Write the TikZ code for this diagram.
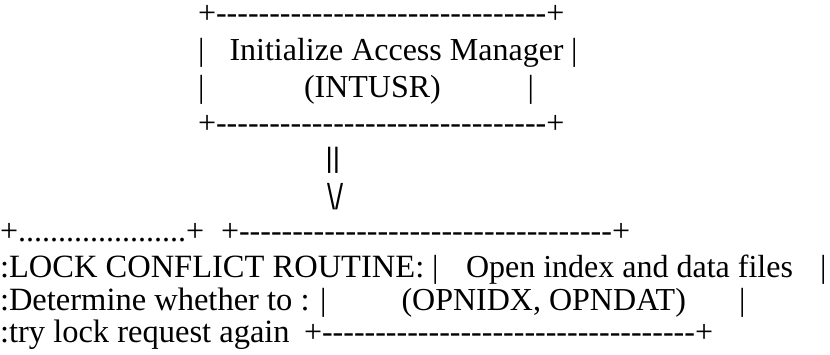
\documentclass[tikz,border=0pt]{standalone}
\usepackage{graphicx}
\usepackage{fontspec}
\setmainfont{Liberation Serif}[Ligatures=TeXOff]
\newfontfamily\flowfont{Liberation Sans}[Ligatures=TeXOff]
\definecolor{ink}{HTML}{000000}
\newcommand\reps[2]{\foreach \k in {1,...,#1}{#2}}

\begin{document}
\begin{tikzpicture}[x=1pt, y=-1pt, color=ink,
    ascii/.style={anchor=base west, inner sep=0pt, outer sep=0pt,
                  font=\fontsize{32}{35}\selectfont, text=ink},
    lockrow/.style={ascii, font=\fontsize{32.5}{35}\selectfont},
    flow/.style={ascii, font=\flowfont\fontsize{28}{35}\selectfont}]
  % fixed 830 x 354 canvas, y runs downwards
  \path[use as bounding box] (0,0) rectangle (830,354);

  % ================= top box: Initialize Access Manager =================
  \node[ascii, text height=18pt] (topedge) at (198,23) {+\reps{31}{-}+};
  \node[ascii] (initbarL) at (198,60) {|};
  \node[ascii] (inittext) at (229.5,60) {Initialize Access Manager};
  \node[ascii] (initbarR) at (571,60) {|};
  \node[ascii] (intbarL) at (198,97) {|};
  \node[ascii] (intusr) at (304,97) {(INTUSR)};
  \node[ascii] (intbarR) at (527.5,97) {|};
  \node[ascii] (topbase) at (198,133) {+\reps{31}{-}+};

  % ================= arrow made of characters =================
  \node[flow] (shaft) at (325.7,167) {||};
  \node[flow] (head) at (327,209.5) {\scalebox{0.8}[1]{\fontsize{36}{35}\selectfont\textbackslash/}};

  % ================= lock conflict routine (dotted box) =================
  \node[ascii] (lockedge) at (0,241) {+\reps{21}{.}+};
  \node[lockrow] (locktitle) at (0,277) {:LOCK CONFLICT ROUTINE:};
  \node[lockrow] (lockline) at (0,310) {:Determine whether to :};
  \node[lockrow] (locktry) at (0,342) {:try lock request again};

  % ================= lower box: Open index and data files =================
  \node[ascii] (openedge) at (221,241) {+\reps{35}{-}+};
  \node[ascii] (openbarL) at (432,277) {|};
  \node[ascii] (opentext) at (466,277) {Open index and data files};
  \node[ascii] (openbarR) at (820,277) {|};
  \node[ascii] (opnbarL) at (320,310) {|};
  \node[ascii] (opnidx) at (401.5,310) {(OPNIDX, OPNDAT)};
  \node[ascii] (opnbarR) at (739,310) {|};
  \node[ascii] (openbase) at (304,342) {+\reps{35}{-}+};
\end{tikzpicture}
\end{document}
